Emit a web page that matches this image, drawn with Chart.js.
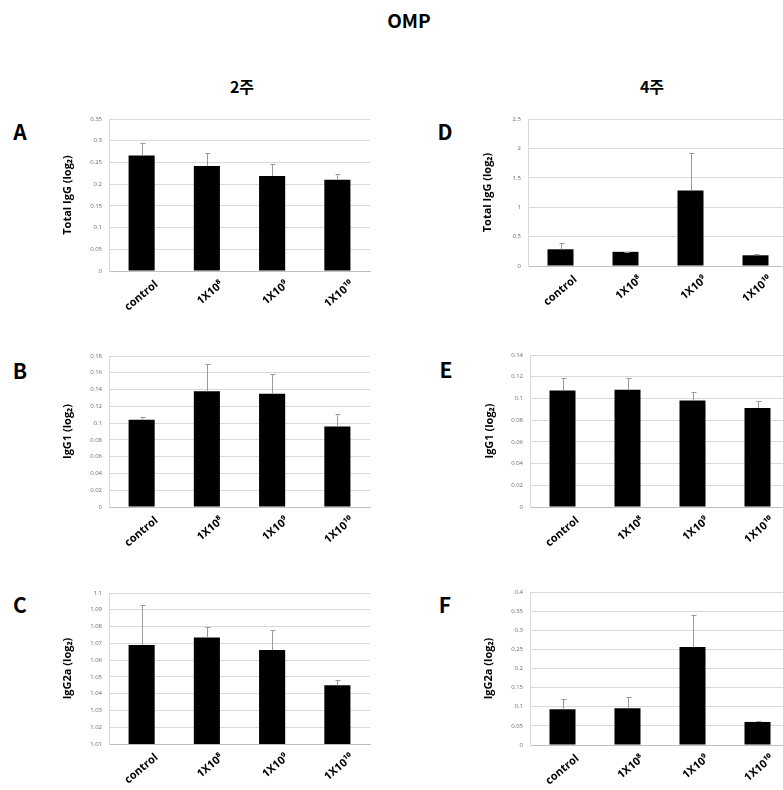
<!DOCTYPE html>
<html><head><meta charset="utf-8">
<script src="https://cdn.jsdelivr.net/npm/chart.js@4.4.1/dist/chart.umd.min.js"></script>
<style>
html,body{margin:0;padding:0;background:#fff;width:783px;height:790px;overflow:hidden;position:relative;}
.t{position:absolute;transform:translate(-50%,-50%);font-family:'Noto Sans CJK KR','Open Sans',sans-serif;font-weight:bold;color:#000;line-height:1;white-space:nowrap;}
canvas{position:absolute;}
</style></head><body>
<div class="t" style="left:409px;top:19px;font-size:19px">OMP</div>
<div class="t" style="left:242px;top:86px;font-size:16px">2주</div>
<div class="t" style="left:652px;top:86px;font-size:16px">4주</div>
<div class="t" style="left:20px;top:131px;font-size:21px">A</div>
<div class="t" style="left:20px;top:370px;font-size:21px">B</div>
<div class="t" style="left:20px;top:604px;font-size:21px">C</div>
<div class="t" style="left:445px;top:131px;font-size:21px">D</div>
<div class="t" style="left:446px;top:369px;font-size:21px">E</div>
<div class="t" style="left:445px;top:604px;font-size:21px">F</div>
<canvas id="cA"></canvas><canvas id="cB"></canvas><canvas id="cC"></canvas>
<canvas id="cD"></canvas><canvas id="cE"></canvas><canvas id="cF"></canvas>
<script>
// ---- data ----
const categories = ['control', '1X10⁸', '1X10⁹', '1X10¹⁰'];

// 2주 (week 2)
const totalIgG_w2      = [0.266, 0.242, 0.219, 0.210];
const totalIgG_w2_err  = [0.028, 0.030, 0.028, 0.013];
const igG1_w2          = [0.104, 0.138, 0.135, 0.096];
const igG1_w2_err      = [0.003, 0.033, 0.023, 0.015];
const igG2a_w2         = [1.069, 1.0735, 1.066, 1.045];
const igG2a_w2_err     = [0.024, 0.0065, 0.012, 0.003];

// 4주 (week 4)
const totalIgG_w4      = [0.284, 0.241, 1.284, 0.182];
const totalIgG_w4_err  = [0.108, 0.003, 0.646, 0.018];
const igG1_w4          = [0.1074, 0.108, 0.0982, 0.0911];
const igG1_w4_err      = [0.011, 0.011, 0.0076, 0.0067];
const igG2a_w4         = [0.0934, 0.096, 0.256, 0.0603];
const igG2a_w4_err     = [0.027, 0.029, 0.084, 0.0027];

// y tick labels
const ticksA = [0, 0.05, 0.1, 0.15, 0.2, 0.25, 0.3, 0.35];
const ticksB = [0, 0.02, 0.04, 0.06, 0.08, 0.1, 0.12, 0.14, 0.16, 0.18];
const ticksC = [1.01, 1.02, 1.03, 1.04, 1.05, 1.06, 1.07, 1.08, 1.09, 1.1];
const ticksD = [0, 0.5, 1, 1.5, 2, 2.5];
const ticksE = [0, 0.02, 0.04, 0.06, 0.08, 0.1, 0.12, 0.14];
const ticksF = [0, 0.05, 0.1, 0.15, 0.2, 0.25, 0.3, 0.35, 0.4];

const titleTotal = 'Total IgG (log₂)';
const titleG1 = 'IgG1 (log₂)';
const titleG2a = 'IgG2a (log₂)';

// ---- layout (positions only) ----
const panels = [
  {id:'cA', title:titleTotal, vals:totalIgG_w2, err:totalIgG_w2_err, ticks:ticksA, box:{left:55,  top:100, width:325, height:230}, padTop:19, xh:59, yw:54, tpad:6.4},
  {id:'cB', title:titleG1,    vals:igG1_w2,     err:igG1_w2_err,     ticks:ticksB, box:{left:55,  top:337, width:325, height:230}, padTop:19, xh:60, yw:54, tpad:6.4},
  {id:'cC', title:titleG2a,   vals:igG2a_w2,    err:igG2a_w2_err,    ticks:ticksC, box:{left:55,  top:574, width:325, height:216}, padTop:19, xh:46, yw:54, tpad:6.4},
  {id:'cD', title:titleTotal, vals:totalIgG_w4, err:totalIgG_w4_err, ticks:ticksD, box:{left:474, top:100, width:324, height:230}, padTop:19, xh:64, yw:54, tpad:7.4},
  {id:'cE', title:titleG1,    vals:igG1_w4,     err:igG1_w4_err,     ticks:ticksE, box:{left:476, top:336, width:324, height:230}, padTop:19, xh:59, yw:54, tpad:7.4},
  {id:'cF', title:titleG2a,   vals:igG2a_w4,    err:igG2a_w4_err,    ticks:ticksF, box:{left:476, top:573, width:324, height:217}, padTop:19, xh:45, yw:54, tpad:6.4}
];

const FONT = "'Open Sans','DejaVu Sans',sans-serif";

const errorBars = {
  id: 'errorBars',
  afterDatasetsDraw(chart, args, opts) {
    const meta = chart.getDatasetMeta(0);
    const ds = chart.data.datasets[0];
    const y = chart.scales.y;
    const ctx = chart.ctx;
    ctx.save();
    ctx.strokeStyle = '#999999';
    ctx.lineWidth = 1;
    meta.data.forEach((bar, i) => {
      const top = Math.round(y.getPixelForValue(ds.data[i] + opts.err[i])) + 0.5;
      const x = Math.round(bar.x) + 0.5;
      ctx.beginPath();
      ctx.moveTo(x, bar.y);
      ctx.lineTo(x, top);
      ctx.moveTo(x - 2, top);
      ctx.lineTo(x + 3, top);
      ctx.stroke();
    });
    ctx.restore();
  }
};

panels.forEach(p => {
  const cv = document.getElementById(p.id);
  cv.width = p.box.width; cv.height = p.box.height;
  cv.style.left = p.box.left + 'px'; cv.style.top = p.box.top + 'px';
  cv.style.width = p.box.width + 'px'; cv.style.height = p.box.height + 'px';
  new Chart(cv, {
    type: 'bar',
    data: {
      labels: categories,
      datasets: [{data: p.vals, backgroundColor: '#000', borderWidth: 0, barPercentage: 0.4, categoryPercentage: 1}]
    },
    options: {
      responsive: false, animation: false, devicePixelRatio: 1,
      layout: {padding: {top: p.padTop, right: 10, left: 0, bottom: 0}},
      plugins: {legend: {display: false}, tooltip: {enabled: false}, errorBars: {err: p.err}},
      scales: {
        x: {
          grid: {display: false, drawTicks: false},
          border: {color: '#bfbfbf'},
          ticks: {minRotation: 40, maxRotation: 40, autoSkip: false, labelOffset: 15, padding: 7,
                  color: '#000', font: {family: FONT, size: 11, weight: 'bold'}},
          afterFit: s => { s.height = p.xh; }
        },
        y: {
          min: p.ticks[0], max: p.ticks[p.ticks.length - 1],
          afterBuildTicks: s => { s.ticks = p.ticks.map(v => ({value: v})); },
          grid: {color: '#d9d9d9', drawTicks: false},
          border: {color: '#d9d9d9'},
          ticks: {padding: 7, color: '#6a6a6a', font: {family: FONT, size: 6}, callback: v => String(v)},
          title: {display: true, text: p.title, color: '#000', font: {family: FONT, size: 11, weight: 'bold'}, padding: {top: p.tpad, bottom: 0}},
          afterFit: s => { s.width = p.yw; }
        }
      }
    },
    plugins: [errorBars]
  });
});
</script>
</body></html>
